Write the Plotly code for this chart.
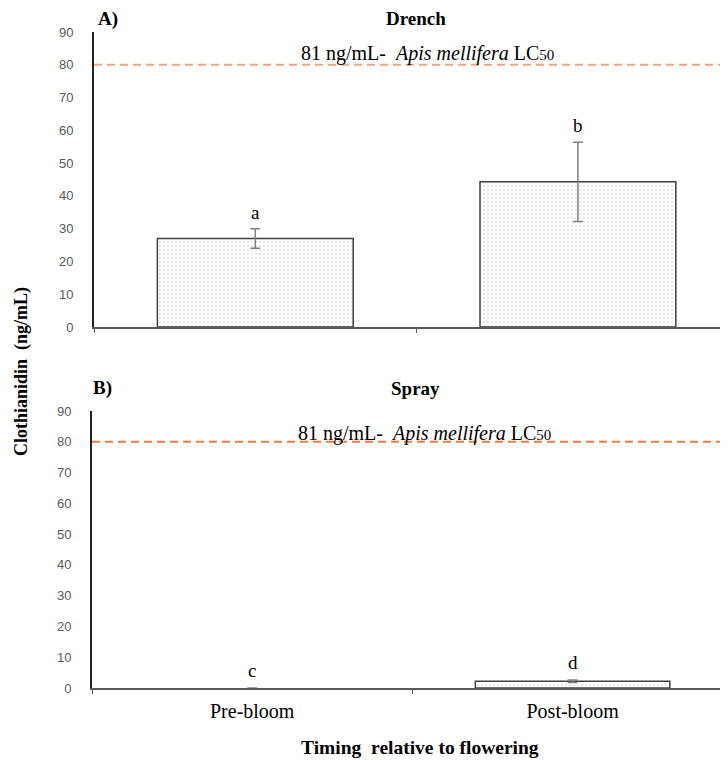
import plotly.graph_objects as go

categories = ["Pre-bloom", "Post-bloom"]
drench_mean = [27.0, 44.3]
drench_err = [3.0, 12.1]
spray_mean = [0.0, 2.2]
spray_err = [None, 0.4]
drench_letters = ["a", "b"]
spray_letters = ["c", "d"]
lc50_value = 80
y_ticks = [0, 10, 20, 30, 40, 50, 60, 70, 80, 90]

W, H = 728, 760
OFF = 8  # page body margin
SERIF = "Liberation Serif, Times New Roman, serif"
SANS = "Liberation Sans, Arial, sans-serif"

def px_x(p):
    return (p - OFF) / W

def px_y(p):
    return 1 - (p - OFF) / H

fig = go.Figure()

def bar_marker(values):
    # no outline for an empty (zero) bar
    widths = [1.5 if v > 0 else 0 for v in values]
    return dict(color="white", line=dict(color="#404040", width=widths),
                pattern=dict(shape=".", fgcolor="#c0c0c0", bgcolor="white", size=4, solidity=0.2))

err_style = dict(type="data", color="#808080", thickness=1.5, width=5)

fig.add_trace(go.Bar(x=categories, y=drench_mean, xaxis="x", yaxis="y",
                     marker=bar_marker(drench_mean), width=0.607, showlegend=False,
                     hoverinfo="skip", error_y=dict(array=drench_err, **err_style)))
fig.add_trace(go.Bar(x=categories, y=spray_mean, xaxis="x2", yaxis="y2",
                     marker=bar_marker(spray_mean), width=0.607, showlegend=False,
                     hoverinfo="skip", error_y=dict(array=spray_err, **err_style)))

axis_common = dict(showgrid=False, zeroline=False, showline=True, automargin=False)
ytick_font = dict(family=SANS, size=13, color="#595959")

fig.update_layout(
    width=W, height=H,
    margin=dict(l=0, r=0, t=0, b=0, pad=0),
    paper_bgcolor="white", plot_bgcolor="white",
    xaxis=dict(domain=[px_x(94), 1], range=[-0.5, 1.49], type="category",
               showticklabels=False, ticks="outside", tickson="boundaries",
               ticklen=4, tickcolor="#595959", linecolor="#595959", linewidth=2,
               anchor="y", **axis_common),
    yaxis=dict(domain=[px_y(327), px_y(32)], range=[0, 90], tickvals=y_ticks,
               ticks="", tickfont=ytick_font, ticklabelstandoff=16,
               linecolor="#222222", linewidth=2, anchor="x", **axis_common),
    xaxis2=dict(domain=[px_x(92), 1], range=[-0.5, 1.51], type="category",
                ticks="outside", tickson="boundaries", ticklen=4, tickcolor="#595959",
                linecolor="#595959", linewidth=2, anchor="y2",
                tickfont=dict(family=SERIF, size=20, color="black"),
                ticklabelstandoff=4, **axis_common),
    yaxis2=dict(domain=[px_y(688), px_y(411)], range=[0, 90], tickvals=y_ticks,
                ticks="", tickfont=ytick_font, ticklabelstandoff=16,
                linecolor="#222222", linewidth=2, anchor="x2", **axis_common),
)

# LC50 reference lines
fig.add_shape(type="line", xref="x domain", yref="y", x0=0, x1=1, y0=lc50_value, y1=lc50_value,
              line=dict(color="#F2A67A", width=2, dash="8px,5px"))
fig.add_shape(type="line", xref="x2 domain", yref="y2", x0=0, x1=1, y0=lc50_value, y1=lc50_value,
              line=dict(color="#EE7C3D", width=2, dash="8px,5px"))

def note(text, x, y, size=19, xanchor="center", angle=0):
    fig.add_annotation(text=text, xref="paper", yref="paper", x=px_x(x), y=px_y(y),
                       xanchor=xanchor, yanchor="middle", textangle=angle, showarrow=False,
                       font=dict(family=SERIF, size=size, color="black"))

lc_text = "81 ng/mL-  <i>Apis mellifera</i> LC<span style='font-size:15px'>50</span>"
note(lc_text, 428, 53, size=20)
note(lc_text, 424, 433, size=20)

# significance letters
for i, cat in enumerate(categories):
    fig.add_annotation(text=drench_letters[i], x=cat, y=drench_mean[i] + drench_err[i],
                       xref="x", yref="y", yanchor="bottom", yshift=4, showarrow=False,
                       font=dict(family=SERIF, size=19, color="black"))
    fig.add_annotation(text=spray_letters[i], x=cat, y=spray_mean[i] + (spray_err[i] or 0),
                       xref="x2", yref="y2", yanchor="bottom", yshift=5, showarrow=False,
                       font=dict(family=SERIF, size=19, color="black"))

# panel titles
note("<b>A)</b>", 96, 19, xanchor="left")
note("<b>Drench</b>", 416, 19)
note("<b>B)</b>", 91, 388, xanchor="left")
note("<b>Spray</b>", 415, 388)

# axis titles
note("<b>Clothianidin  (ng/mL)</b>", 22, 372, size=18, angle=-90)
note("<b>Timing  relative to flowering</b>", 420, 747, size=19.5)

fig.write_html("out.html")
